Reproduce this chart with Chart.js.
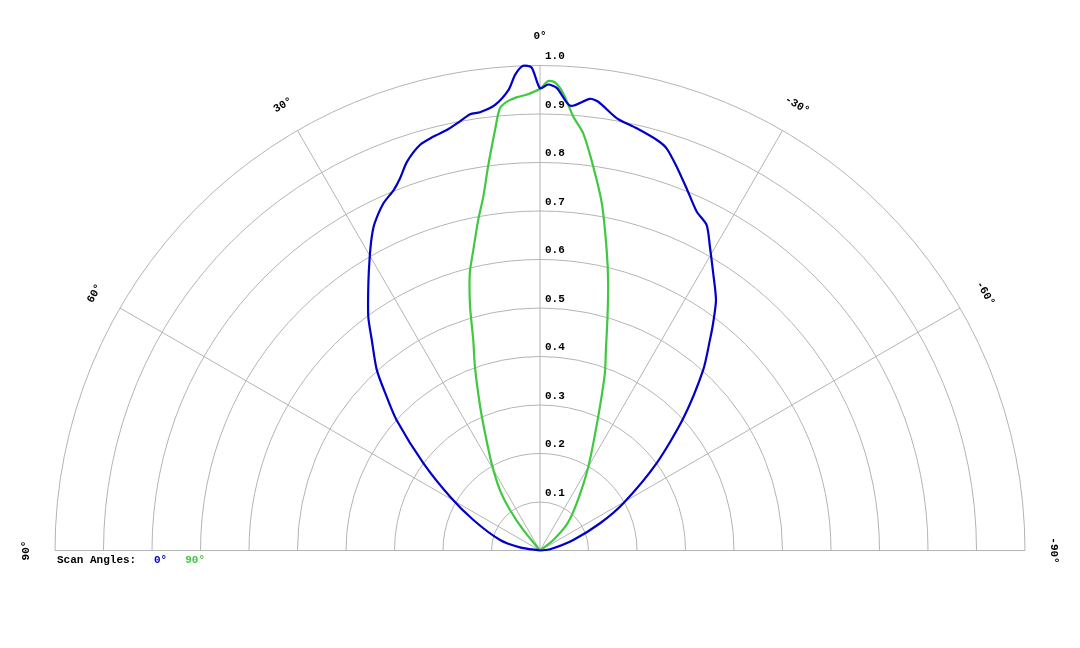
<!DOCTYPE html>
<html>
<head>
<meta charset="utf-8">
<script src="https://cdn.jsdelivr.net/npm/chart.js@4/dist/chart.umd.min.js"></script>
<style>
  html, body { margin: 0; padding: 0; background: #fff; }
  #wrap { width: 1080px; height: 648px; }
</style>
</head>
<body>
<div id="wrap"><canvas id="myChart" width="1080" height="648"></canvas></div>
<script>
// scan angles (degrees, positive to the left) and normalised values
let scanNames = ['0°', '90°'];

let blueAngles = [90, 81, 75.3, 65.4, 59.1, 53.2, 47.7, 44.9, 42.1, 38.6, 36.3, 32.7, 30.1, 28.2, 26.8, 24.3, 22.1, 20.6, 18.9, 16.5, 14.5, 12.5, 11.0, 9.1, 7.8, 5.8, 3.9, 3.0, 2.0, 1.0, 0, -1.0, -2.1, -3.9, -6.3, -7.4, -10.1, -12.9, -15.9, -17.5, -19.6, -22.0, -24.8, -27.1, -29.2, -32.0, -35.1, -37.3, -38.9, -42.1, -47.3, -53.2, -60.5, -65.6, -72.5, -83, -90];
let blueValues = [0, 0.042, 0.085, 0.151, 0.216, 0.300, 0.400, 0.448, 0.502, 0.556, 0.598, 0.655, 0.700, 0.734, 0.756, 0.785, 0.802, 0.820, 0.847, 0.872, 0.881, 0.888, 0.897, 0.911, 0.912, 0.923, 0.952, 0.982, 1.000, 0.996, 0.953, 0.961, 0.954, 0.919, 0.937, 0.933, 0.905, 0.893, 0.880, 0.869, 0.840, 0.806, 0.770, 0.754, 0.718, 0.674, 0.631, 0.589, 0.558, 0.502, 0.402, 0.300, 0.197, 0.136, 0.072, 0.021, 0];

let greenAngles = [90, 39.2, 36.5, 33.5, 29.0, 25.1, 22.6, 19.5, 17.6, 16.0, 14.2, 12.5, 10.6, 9.1, 7.7, 6.1, 5.2, 4.2, 2.9, 1.7, 0, -1.0, -1.8, -2.9, -4.4, -5.9, -7.9, -10.1, -12.5, -14.3, -16.1, -18.2, -20.1, -23.5, -30.0, -37.9, -45.5, -51.7, -90];
let greenValues = [0, 0.054, 0.104, 0.150, 0.206, 0.267, 0.321, 0.402, 0.455, 0.523, 0.590, 0.635, 0.693, 0.739, 0.799, 0.872, 0.915, 0.928, 0.936, 0.940, 0.952, 0.968, 0.966, 0.944, 0.897, 0.865, 0.799, 0.727, 0.635, 0.569, 0.502, 0.435, 0.389, 0.301, 0.199, 0.123, 0.079, 0.035, 0];

let ringTicks = [0.1, 0.2, 0.3, 0.4, 0.5, 0.6, 0.7, 0.8, 0.9, 1.0];
let ringLabels = ['0.1', '0.2', '0.3', '0.4', '0.5', '0.6', '0.7', '0.8', '0.9', '1.0'];
let spokeAngles = [90, 60, 30, 0, -30, -60, -90];
let spokeLabels = ['90°', '60°', '30°', '0°', '-30°', '-60°', '-90°'];

let toXY = (angles, values) => angles.map((a, i) => {
  let t = a * Math.PI / 180;
  return { x: -values[i] * Math.sin(t), y: values[i] * Math.cos(t) };
});

const FONT = 'bold 11px "Liberation Mono", "Courier New", monospace';
const GRID = '#b4b4b4';

let polarGrid = {
  id: 'polarGrid',
  beforeDatasetsDraw(chart) {
    let ctx = chart.ctx;
    let sx = chart.scales.x, sy = chart.scales.y;
    let cx = sx.getPixelForValue(0), cy = sy.getPixelForValue(0);
    let unit = sx.getPixelForValue(1) - cx;
    ctx.save();
    ctx.strokeStyle = GRID;
    ctx.lineWidth = 1;
    ringTicks.forEach((r) => {
      ctx.beginPath();
      ctx.arc(cx, cy, r * unit, Math.PI, 2 * Math.PI);
      ctx.stroke();
    });
    spokeAngles.forEach((a) => {
      let t = a * Math.PI / 180;
      ctx.beginPath();
      ctx.moveTo(cx, cy);
      ctx.lineTo(sx.getPixelForValue(-Math.sin(t)), sy.getPixelForValue(Math.cos(t)));
      ctx.stroke();
    });
    ctx.fillStyle = '#000';
    ctx.font = FONT;
    ctx.textAlign = 'left';
    ctx.textBaseline = 'middle';
    ringTicks.forEach((r, i) => {
      ctx.fillText(ringLabels[i], cx + 5, sy.getPixelForValue(r) - 9);
    });
    ctx.restore();
  },
  afterDraw(chart) {
    let ctx = chart.ctx;
    let sx = chart.scales.x, sy = chart.scales.y;
    ctx.save();
    ctx.font = FONT;
    ctx.fillStyle = '#000';
    ctx.textAlign = 'center';
    ctx.textBaseline = 'middle';
    spokeAngles.forEach((a, i) => {
      let t = a * Math.PI / 180;
      let px = sx.getPixelForValue(-1.06 * Math.sin(t));
      let py = sy.getPixelForValue(1.06 * Math.cos(t));
      ctx.save();
      ctx.translate(px, py);
      ctx.rotate(-t);
      ctx.fillText(spokeLabels[i], 0, 0);
      ctx.restore();
    });
    // legend line under the plot
    ctx.textAlign = 'left';
    let ly = sy.getPixelForValue(0) + 10;
    let lx = sx.getPixelForValue(-1) + 2;
    ctx.fillText('Scan Angles:', lx, ly);
    let x = lx + 97;
    chart.data.datasets.forEach((ds) => {
      ctx.fillStyle = ds.borderColor;
      ctx.fillText(ds.label, x, ly);
      x += ctx.measureText(ds.label).width + 18;
    });
    ctx.restore();
  }
};

new Chart(document.getElementById('myChart'), {
  type: 'scatter',
  data: {
    datasets: [
      {
        label: scanNames[0],
        data: toXY(blueAngles, blueValues),
        borderColor: 'rgb(0,0,200)',
        showLine: true,
        borderWidth: 2.2,
        pointRadius: 0,
        tension: 0.25
      },
      {
        label: scanNames[1],
        data: toXY(greenAngles, greenValues),
        borderColor: 'rgb(64,200,64)',
        showLine: true,
        borderWidth: 2.2,
        pointRadius: 0,
        tension: 0.25
      }
    ]
  },
  options: {
    responsive: false,
    animation: false,
    events: [],
    clip: false,
    layout: { padding: { left: 55, right: 55, top: 65.5, bottom: 97.5 } },
    scales: {
      x: { type: 'linear', min: -1, max: 1, display: false },
      y: { type: 'linear', min: 0, max: 1, display: false }
    },
    plugins: {
      legend: { display: false },
      tooltip: { enabled: false }
    }
  },
  plugins: [polarGrid]
});
</script>
</body>
</html>
